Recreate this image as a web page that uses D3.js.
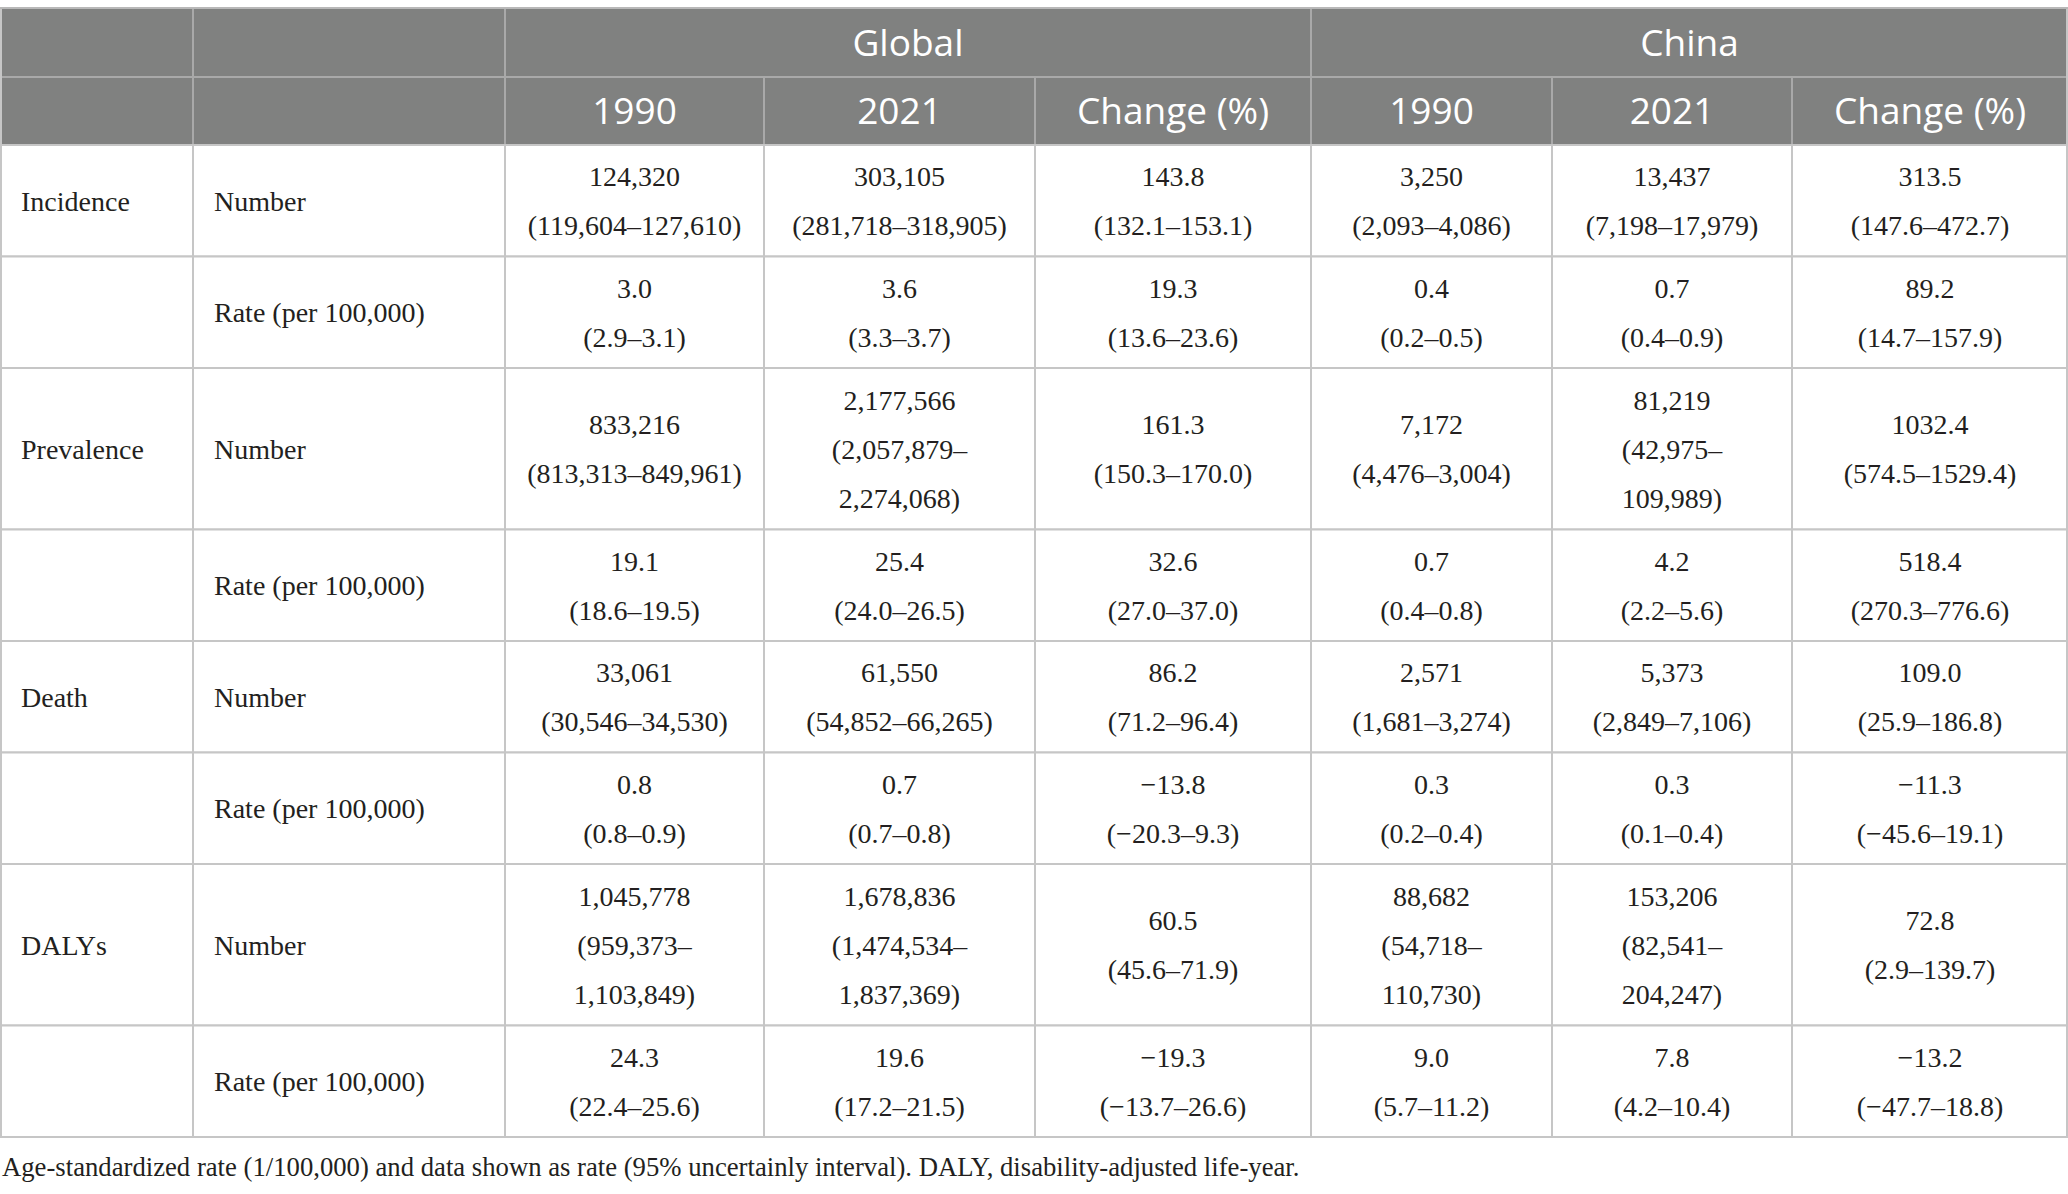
<!DOCTYPE html>
<html>
<head>
<meta charset="utf-8">
<script src="https://cdn.jsdelivr.net/npm/d3@7"></script>
<style>
  body { margin: 0; background: #fff; }
  svg { display: block; }
</style>
</head>
<body>
<div id="chart"></div>
<script>
// table content
const regions = ["Global", "China"];
const periods = ["1990", "2021", "Change (%)"];
const measures = ["Incidence", "Prevalence", "Death", "DALYs"];
const metrics = ["Number", "Rate (per 100,000)"];

// one entry per row: Incidence number/rate, Prevalence number/rate, Death ..., DALYs ...
const global1990 = ["124,320\n(119,604–127,610)", "3.0\n(2.9–3.1)", "833,216\n(813,313–849,961)", "19.1\n(18.6–19.5)",
  "33,061\n(30,546–34,530)", "0.8\n(0.8–0.9)", "1,045,778\n(959,373–\n1,103,849)", "24.3\n(22.4–25.6)"];
const global2021 = ["303,105\n(281,718–318,905)", "3.6\n(3.3–3.7)", "2,177,566\n(2,057,879–\n2,274,068)", "25.4\n(24.0–26.5)",
  "61,550\n(54,852–66,265)", "0.7\n(0.7–0.8)", "1,678,836\n(1,474,534–\n1,837,369)", "19.6\n(17.2–21.5)"];
const globalChange = ["143.8\n(132.1–153.1)", "19.3\n(13.6–23.6)", "161.3\n(150.3–170.0)", "32.6\n(27.0–37.0)",
  "86.2\n(71.2–96.4)", "−13.8\n(−20.3–9.3)", "60.5\n(45.6–71.9)", "−19.3\n(−13.7–26.6)"];
const china1990 = ["3,250\n(2,093–4,086)", "0.4\n(0.2–0.5)", "7,172\n(4,476–3,004)", "0.7\n(0.4–0.8)",
  "2,571\n(1,681–3,274)", "0.3\n(0.2–0.4)", "88,682\n(54,718–\n110,730)", "9.0\n(5.7–11.2)"];
const china2021 = ["13,437\n(7,198–17,979)", "0.7\n(0.4–0.9)", "81,219\n(42,975–\n109,989)", "4.2\n(2.2–5.6)",
  "5,373\n(2,849–7,106)", "0.3\n(0.1–0.4)", "153,206\n(82,541–\n204,247)", "7.8\n(4.2–10.4)"];
const chinaChange = ["313.5\n(147.6–472.7)", "89.2\n(14.7–157.9)", "1032.4\n(574.5–1529.4)", "518.4\n(270.3–776.6)",
  "109.0\n(25.9–186.8)", "−11.3\n(−45.6–19.1)", "72.8\n(2.9–139.7)", "−13.2\n(−47.7–18.8)"];

const footnote = "Age-standardized rate (1/100,000) and data shown as rate (95% uncertainly interval). DALY, disability-adjusted life-year.";

// layout
const W = 2068, H = 1194;
const colW = [193, 312, 259, 271, 276, 241, 240, 276];
const colX = [0, ...d3.cumsum(colW)];
const top0 = 8, head1 = 69, head2 = 68;
const lineH = 49;
const headFill = "#808180", headLine = "#a9a9a9", gridLine = "#c6c6c6", ink = "#231f20";
const serif = "'Liberation Serif', 'DejaVu Serif', serif";
const sans = "'Open Sans', 'Noto Sans', sans-serif";
const bodySize = 28;

const valueCols = [global1990, global2021, globalChange, china1990, china2021, chinaChange];

const rows = [];
measures.forEach((m, mi) => {
  metrics.forEach((k, ki) => {
    const i = mi * metrics.length + ki;
    const cells = valueCols.map(c => c[i].split("\n"));
    const n = d3.max(cells, c => c.length);
    rows.push({ measure: ki === 0 ? m : "", metric: k, cells, h: 50 * n + 11.5 });
  });
});
let yy = top0 + head1 + head2;
rows.forEach(r => { r.y = yy; yy += r.h; });
const tableBottom = yy;

const svg = d3.select("#chart").append("svg")
  .attr("width", W).attr("height", H)
  .attr("viewBox", `0 0 ${W} ${H}`);

// header
const headCells = [
  { x0: 0, x1: 1, y: top0, h: head1, t: "" },
  { x0: 1, x1: 2, y: top0, h: head1, t: "" },
  ...regions.map((r, ri) => ({ x0: 2 + ri * 3, x1: 5 + ri * 3, y: top0, h: head1, t: r })),
  { x0: 0, x1: 1, y: top0 + head1, h: head2, t: "" },
  { x0: 1, x1: 2, y: top0 + head1, h: head2, t: "" },
  ...d3.range(6).map(j => ({ x0: 2 + j, x1: 3 + j, y: top0 + head1, h: head2, t: periods[j % 3] }))
];

const hg = svg.append("g").attr("class", "header");
hg.selectAll("rect").data(headCells).join("rect")
  .attr("x", d => colX[d.x0]).attr("y", d => d.y)
  .attr("width", d => colX[d.x1] - colX[d.x0]).attr("height", d => d.h)
  .attr("fill", headFill).attr("stroke", headLine).attr("stroke-width", 2);
hg.selectAll("text").data(headCells.filter(d => d.t)).join("text")
  .attr("x", d => (colX[d.x0] + colX[d.x1]) / 2)
  .attr("y", d => d.y + d.h / 2)
  .attr("dy", "0.36em")
  .attr("text-anchor", "middle")
  .attr("fill", "#fff")
  .attr("font-family", sans).attr("font-size", 37)
  .text(d => d.t);

// body
const bg = svg.append("g").attr("class", "body");
const rowG = bg.selectAll("g.row").data(rows).join("g").attr("class", "row")
  .attr("transform", d => `translate(0,${d.y})`);

rowG.selectAll("rect").data(d => colW.map((w, j) => ({ j, h: d.h }))).join("rect")
  .attr("x", d => colX[d.j]).attr("y", 0)
  .attr("width", d => colW[d.j]).attr("height", d => d.h)
  .attr("fill", "#fff").attr("stroke", gridLine).attr("stroke-width", 2);

rowG.append("text")
  .attr("x", 21).attr("y", d => d.h / 2).attr("dy", "0.35em")
  .attr("font-family", serif).attr("font-size", bodySize).attr("fill", ink)
  .text(d => d.measure);
rowG.append("text")
  .attr("x", colX[1] + 21).attr("y", d => d.h / 2).attr("dy", "0.35em")
  .attr("font-family", serif).attr("font-size", bodySize).attr("fill", ink)
  .text(d => d.metric);

const cellT = rowG.selectAll("text.val").data(d => d.cells.map((lines, j) => ({ lines, j, h: d.h })))
  .join("text").attr("class", "val")
  .attr("text-anchor", "middle")
  .attr("font-family", serif).attr("font-size", bodySize).attr("fill", ink);
cellT.selectAll("tspan").data(d => d.lines.map((t, k) => ({ t, k, n: d.lines.length, j: d.j, h: d.h })))
  .join("tspan")
  .attr("x", d => (colX[d.j + 2] + colX[d.j + 3]) / 2)
  .attr("y", d => d.h / 2 + (d.k - (d.n - 1) / 2) * lineH)
  .attr("dy", "0.35em")
  .text(d => d.t);

// outer border over everything
svg.append("rect")
  .attr("x", 1).attr("y", top0).attr("width", W - 2).attr("height", tableBottom - top0)
  .attr("fill", "none").attr("stroke", gridLine).attr("stroke-width", 2);
svg.append("line")
  .attr("x1", 0).attr("x2", W).attr("y1", top0).attr("y2", top0)
  .attr("stroke", "#b8b8b8").attr("stroke-width", 2);

svg.append("text")
  .attr("x", 2).attr("y", tableBottom + 39)
  .attr("font-family", serif).attr("font-size", 26.7).attr("fill", ink)
  .text(footnote);
</script>
</body>
</html>
